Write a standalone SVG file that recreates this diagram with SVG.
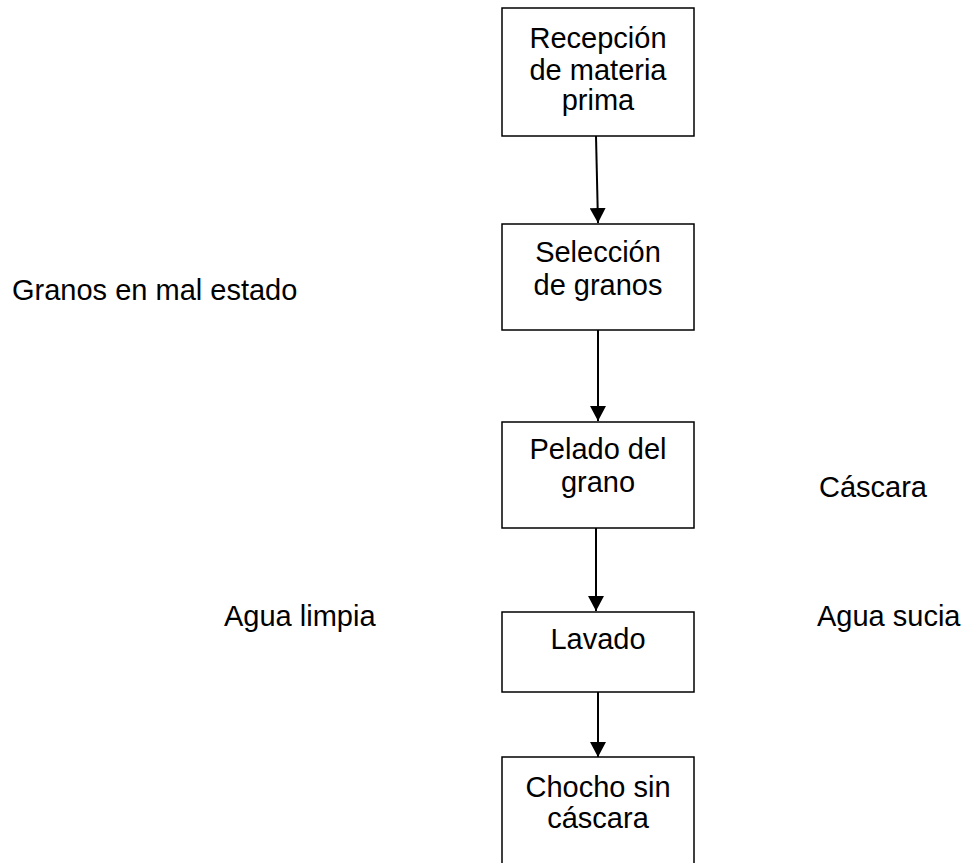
<svg xmlns="http://www.w3.org/2000/svg" width="966" height="863" viewBox="0 0 966 863">
<style>
.box{fill:#fff;stroke:#000;stroke-width:1.5}
.t{font-family:"Liberation Sans",Arial,sans-serif;font-size:29px;fill:#000}
.c{text-anchor:middle}
.ln{stroke:#000;stroke-width:2;fill:none}
</style>
<defs>
<marker id="ah" markerWidth="15" markerHeight="16" refX="15" refY="8" orient="auto" markerUnits="userSpaceOnUse">
<path d="M0,0 L15,8 L0,16 Z" fill="#000"/>
</marker>
</defs>
<rect width="966" height="863" fill="#fff"/>
<g id="connectors">
<line class="ln" x1="596" y1="136" x2="598" y2="223" marker-end="url(#ah)"/>
<line class="ln" x1="598" y1="330" x2="598" y2="421" marker-end="url(#ah)"/>
<line class="ln" x1="596" y1="528" x2="596" y2="611" marker-end="url(#ah)"/>
<line class="ln" x1="598" y1="692" x2="598" y2="757" marker-end="url(#ah)"/>
</g>
<g id="n1">
<rect class="box" x="502" y="8" width="192" height="128"/>
<text class="t c" x="598" y="48">Recepción</text>
<text class="t c" x="598" y="80">de materia</text>
<text class="t c" x="598" y="110">prima</text>
</g>
<g id="n2">
<rect class="box" x="502" y="224" width="192" height="106"/>
<text class="t c" x="598" y="262">Selección</text>
<text class="t c" x="598" y="295">de granos</text>
</g>
<g id="n3">
<rect class="box" x="502" y="422" width="192" height="106"/>
<text class="t c" x="598" y="459">Pelado del</text>
<text class="t c" x="598" y="492">grano</text>
</g>
<g id="n4">
<rect class="box" x="502" y="612" width="192" height="80"/>
<text class="t c" x="598" y="649">Lavado</text>
</g>
<g id="n5">
<rect class="box" x="502" y="757" width="192" height="120"/>
<text class="t c" x="598" y="797">Chocho sin</text>
<text class="t c" x="598" y="828">cáscara</text>
</g>
<g id="labels">
<text class="t" x="12" y="300">Granos en mal estado</text>
<text class="t" x="819" y="497">Cáscara</text>
<text class="t" x="224" y="626">Agua limpia</text>
<text class="t" x="817" y="626">Agua sucia</text>
</g>
</svg>
